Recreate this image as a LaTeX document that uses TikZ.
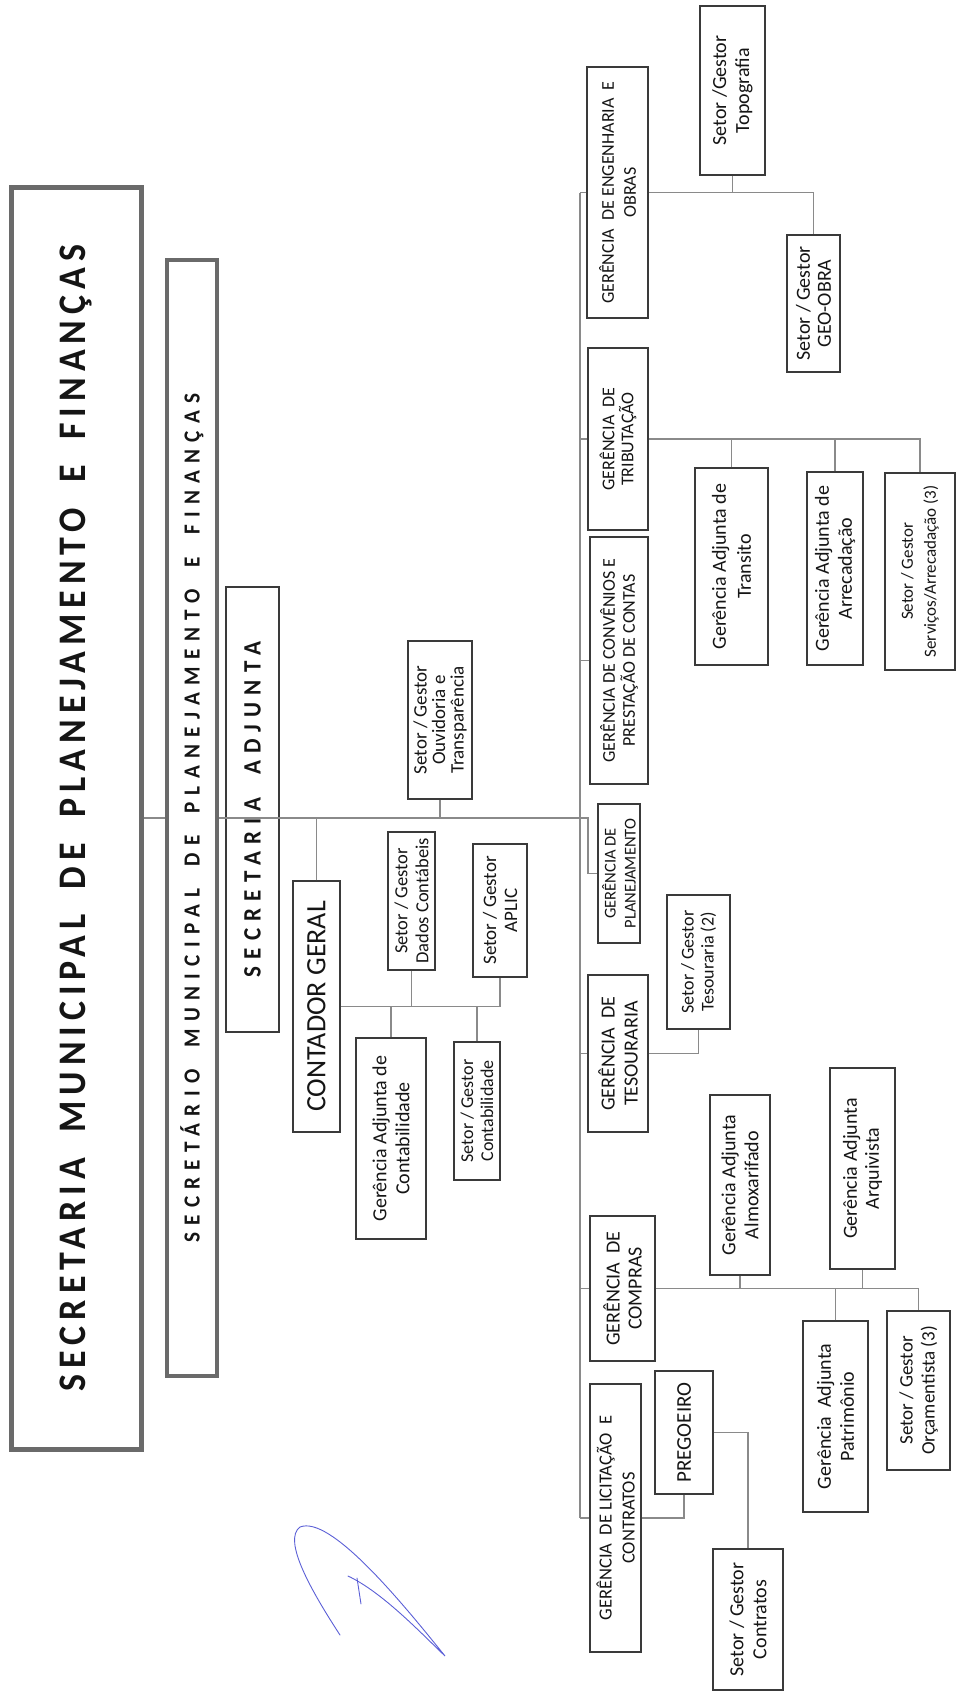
\documentclass[tikz,border=0pt]{standalone}
\usepackage{fontspec}
\setmainfont{Carlito}
\newfontfamily\titlefont[LetterSpace=15.4,WordSpace=1.8,FakeStretch=0.92]{Carlito}
\newfontfamily\subtitlefont[LetterSpace=32,WordSpace=1.8,FakeStretch=0.92]{Carlito}
\newfontfamily\adjfont[LetterSpace=29,WordSpace=1.8,FakeStretch=0.92]{Carlito}
\newcommand{\fsz}[2]{\fontsize{#1}{#2}\selectfont}
\definecolor{boxline}{HTML}{3A3A3A}
\definecolor{titleline}{HTML}{6A6A6A}
\definecolor{linkgray}{HTML}{8A8A8A}
\definecolor{textgray}{HTML}{151515}
\definecolor{inkblue}{HTML}{5B5FD6}
\tikzset{
  org/.style={draw=boxline, line width=1.5pt, fill=white, rotate=90, align=center, inner sep=0pt, text=textgray},
  head/.style={org, draw=titleline},
  link/.style={draw=linkgray, line width=1.1pt},
  spine/.style={draw=linkgray, line width=2pt},
  sig/.style={draw=inkblue, line width=0.9pt, line cap=round},
}
\begin{document}
\begin{tikzpicture}[x=1pt, y=-1pt]
\useasboundingbox (0,0) rectangle (957,1692);
\coordinate (hub) at (580,818);
\node[head, line width=5pt, minimum width=1262pt, minimum height=130pt, font=\titlefont\bfseries\fsz{39}{44}] (sec) at (76,818){SECRETARIA MUNICIPAL DE PLANEJAMENTO E FINANÇAS};
\node[head, line width=3.5pt, minimum width=1116pt, minimum height=50pt, font=\subtitlefont\bfseries\fsz{23}{26}] (secr) at (192,818){SECRETÁRIO MUNICIPAL DE PLANEJAMENTO E FINANÇAS};
\node[org, line width=2.2pt, minimum width=445pt, minimum height=53pt, font=\adjfont\bfseries\fsz{25}{28}] (adj) at (252.5,809.5){SECRETARIA ADJUNTA};
\node[org, minimum width=158pt, minimum height=64pt, font=\fsz{19}{18.5}] (ouv) at (440,720){Setor / Gestor\\Ouvidoria e\\Transparência};
\node[org, minimum width=251pt, minimum height=47pt, font=\fsz{28}{30}] (cont) at (316.5,1006.5){CONTADOR GERAL};
\node[org, minimum width=138pt, minimum height=47pt, font=\fsz{18.5}{21}] (dados) at (411.5,901){Setor / Gestor\\Dados Contábeis};
\node[org, minimum width=133pt, minimum height=54pt, font=\fsz{19}{21}] (aplic) at (500,910.5){Setor / Gestor\\APLIC};
\node[org, minimum width=201pt, minimum height=70pt, font=\fsz{20}{23}] (gacont) at (391,1138.5){Gerência Adjunta de\\Contabilidade};
\node[org, minimum width=138pt, minimum height=46pt, font=\fsz{18}{20}] (sccont) at (477,1111){Setor / Gestor\\Contabilidade};
\node[org, minimum width=251pt, minimum height=61pt, font=\fsz{18}{22}] (eng) at (617.5,192.5){GERÊNCIA\ \ DE ENGENHARIA\ \ E\\OBRAS};
\node[org, minimum width=169pt, minimum height=65pt, font=\fsz{20}{23}] (topo) at (732.5,90.5){Setor /Gestor\\Topografia};
\node[org, minimum width=137pt, minimum height=53pt, font=\fsz{20}{21}] (geo) at (813.5,303.5){Setor / Gestor\\GEO-OBRA};
\node[org, minimum width=182pt, minimum height=60pt, font=\fsz{18}{19}] (trib) at (618,439){GERÊNCIA\ \ DE\\TRIBUTAÇÃO};
\node[org, minimum width=197pt, minimum height=73pt, font=\fsz{20}{25}] (trans) at (731.5,566.5){Gerência Adjunta de\\Transito};
\node[org, minimum width=193pt, minimum height=56pt, font=\fsz{20}{23}] (arrec) at (835,568.5){Gerência Adjunta de\\Arrecadação};
\node[org, minimum width=197pt, minimum height=70pt, font=\fsz{17}{23}] (serv) at (920,571.5){Setor / Gestor\\Serviços/Arrecadação (3)};
\node[org, minimum width=247pt, minimum height=58pt, font=\fsz{18}{20}] (conv) at (619,660.5){GERÊNCIA DE CONVÊNIOS E\\PRESTAÇÃO DE CONTAS};
\node[org, minimum width=139pt, minimum height=42pt, font=\fsz{16.5}{20}] (plan) at (619,873.5){GERÊNCIA DE\\PLANEJAMENTO};
\node[org, minimum width=157pt, minimum height=60pt, font=\fsz{20}{23}] (tes) at (618,1053.5){GERÊNCIA\ \ DE\\TESOURARIA};
\node[org, minimum width=134pt, minimum height=63pt, font=\fsz{18}{20}] (tes2) at (698.5,962){Setor / Gestor\\Tesouraria (2)};
\node[org, minimum width=145pt, minimum height=65pt, font=\fsz{20}{22}] (comp) at (622.5,1288.5){GERÊNCIA\ \ DE\\COMPRAS};
\node[org, minimum width=180pt, minimum height=60pt, font=\fsz{20}{23}] (almox) at (740,1185){Gerência Adjunta\\Almoxarifado};
\node[org, minimum width=201pt, minimum height=65pt, font=\fsz{20}{22}] (arq) at (862.5,1168.5){Gerência Adjunta\\Arquivista};
\node[org, minimum width=191pt, minimum height=65pt, font=\fsz{20}{23}] (patr) at (835.5,1416.5){Gerência\ \ Adjunta\\Patrimônio};
\node[org, minimum width=159pt, minimum height=63pt, font=\fsz{19}{22}] (orc) at (918.5,1390.5){Setor / Gestor\\Orçamentista (3)};
\node[org, minimum width=268pt, minimum height=51pt, font=\fsz{18.5}{23}] (lic) at (615.5,1518){GERÊNCIA\ \ DE LICITAÇÃO\ \ E\\CONTRATOS};
\node[org, minimum width=123pt, minimum height=58pt, font=\fsz{21}{22}] (preg) at (684,1432.5){PREGOEIRO};
\node[org, minimum width=141pt, minimum height=70pt, font=\fsz{20}{23}] (contr) at (748,1619.5){Setor / Gestor\\Contratos};

\draw[link] (sec.south) -- (secr.north);
\draw[link] (secr.south) -- (hub);
\draw[spine] (hub |- eng.north) -- (hub |- lic.north);
\draw[link] (hub) -- ++(8,0) |- (plan.north);
\draw[link] (ouv.west) -- (ouv.west |- hub);
\draw[link] (cont.east) -- (cont.east |- hub);
\draw[link] (cont.south) -| (aplic.west);
\draw[link] (dados.west) -- (dados.west |- cont.south);
\draw[link] (gacont.east) -- (gacont.east |- cont.south);
\draw[link] (sccont.east) -- (sccont.east |- cont.south);
\draw[link] (eng.north) -- (eng.north -| hub);
\draw[link] (eng.south) -| (geo.east);
\draw[link] (topo.west) -- (topo.west |- eng.south);
\draw[link] (trib.north) -- (trib.north -| hub);
\draw[link] (trib.south) -| (serv.east);
\draw[link] (trans.east) -- (trans.east |- trib.south);
\draw[link] (arrec.east) -- (arrec.east |- trib.south);
\draw[link] (conv.north) -- (conv.north -| hub);
\draw[link] (tes.north) -- (tes.north -| hub);
\draw[link] (tes.south) -| (tes2.west);
\draw[link] (comp.north) -- (comp.north -| hub);
\draw[link] (comp.south) -| (orc.east);
\draw[link] (almox.west) -- (almox.west |- comp.south);
\draw[link] (arq.west) -- (arq.west |- comp.south);
\draw[link] (patr.east) -- (patr.east |- comp.south);
\draw[link] (lic.north) -- (lic.north -| hub);
\draw[link] (lic.south) -| (preg.west);
\draw[link] (preg.south) -| (contr.east);

\draw[sig] (340,1635) .. controls (312,1592) and (282,1540) .. (300,1527) .. controls (330,1515) and (400,1600) .. (445,1656) .. controls (420,1632) and (382,1592) .. (348,1576);
\draw[sig] (357,1578) -- (361,1604);
\end{tikzpicture}
\end{document}
